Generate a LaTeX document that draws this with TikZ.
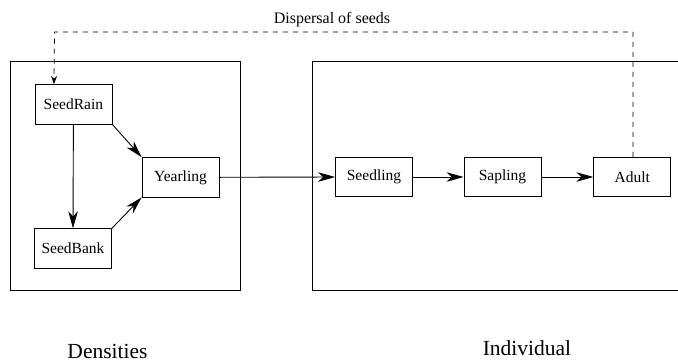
\documentclass[tikz,border=0pt]{standalone}
\usepackage{fontspec}
\setmainfont{Liberation Serif}
\usetikzlibrary{arrows.meta,calc}
\begin{document}
\begin{tikzpicture}[x=1pt,y=-1pt,
  stagebox/.style={draw,line width=0.8pt,minimum width=77pt,minimum height=39.5pt,inner sep=0pt,font=\fontsize{15.5}{18}\selectfont},
  flow/.style={line width=0.9pt,-{Stealth[length=17pt,width=9.5pt,inset=5pt]}},
  disp/.style={line width=0.8pt,dash pattern=on 5pt off 5pt,-{Stealth[length=8pt,width=6pt,inset=2.5pt]}},
  frame/.style={line width=0.8pt},
  biglabel/.style={font=\fontsize{21.5}{25}\selectfont,inner sep=0pt,anchor=base}]
\useasboundingbox (0,0) rectangle (678,362);
% frames
\draw[frame] (10.5,61) rectangle (240,290.5);
\draw[frame] (679,61) -- (312,61) -- (312,290.5) -- (679,290.5);
% stage nodes
\node[stagebox] (rain) at (73.4,104.2) {SeedRain};
\node[stagebox] (bank) at (73,248.5) {SeedBank};
\node[stagebox] (year) at (180.5,177.3) {Yearling};
\node[stagebox] (seedling) at (374,177) {Seedling};
\node[stagebox] (sapling) at (502.5,177) {Sapling};
\node[stagebox] (adult) at (632.3,177) {Adult};
% flows
\draw[flow] (rain.south) -- (bank.north);
\draw[flow] (rain.south east) -- (year.north west);
\draw[flow] (bank.north east) -- (year.south west);
\draw[flow] (year.east) -- (seedling.west);
\draw[flow] (seedling.east) -- (sapling.west);
\draw[flow] (sapling.east) -- (adult.west);
% dispersal
\coordinate (dtop) at (633,32);
\coordinate (dleft) at (54.5,32);
\coordinate (rainin) at ($(rain.north west)!0.25!(rain.north east)$);
\draw[disp] (adult.north -| dtop) -- (dtop) -- (dleft) -- (rainin);
\node[font=\fontsize{16}{19}\selectfont,inner sep=0pt,anchor=base] (displabel) at (332,23) {Dispersal of seeds};
% labels
\node[biglabel] (dens) at (107.5,358) {Densities};
\node[biglabel] (indiv) at (527,355.5) {Individual};
\end{tikzpicture}
\end{document}
